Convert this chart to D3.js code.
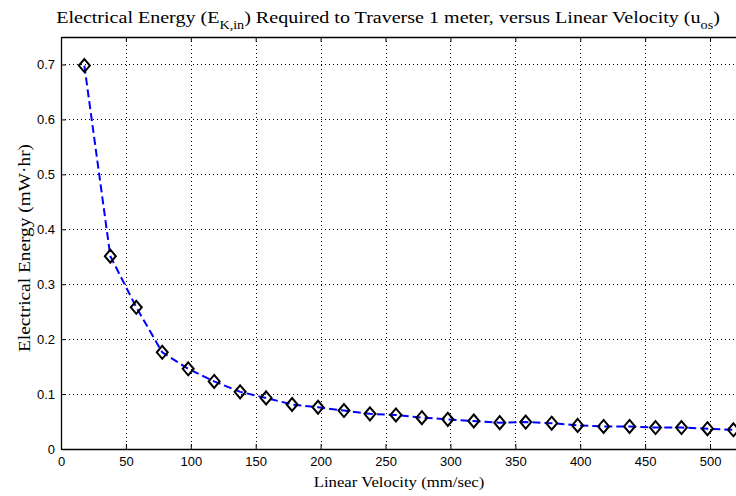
<!DOCTYPE html>
<html>
<head>
<meta charset="utf-8">
<script src="https://cdn.jsdelivr.net/npm/d3@7"></script>
<style>
  body { margin: 0; background: #fff; }
  svg { display: block; }
</style>
</head>
<body>
<script>
// velocity (mm/sec) and energy (mW·hr)
let velocity = [18, 38, 58, 78, 98, 118, 138, 158, 178, 198, 218, 238, 258,
    278, 298, 318, 338, 358, 378, 398, 418, 438, 458, 478, 498, 518];
let energy = [0.698, 0.351, 0.258, 0.176, 0.146, 0.123, 0.104, 0.093, 0.081, 0.076,
    0.070, 0.064, 0.062, 0.057, 0.054, 0.051, 0.048, 0.049, 0.047, 0.043,
    0.041, 0.041, 0.039, 0.039, 0.037, 0.035];
let xTicks = [0, 50, 100, 150, 200, 250, 300, 350, 400, 450, 500];
let yTicks = [0, 0.1, 0.2, 0.3, 0.4, 0.5, 0.6, 0.7];

let width = 736;
let height = 496;
let margin = { top: 37, right: 0, bottom: 47, left: 61 };

let svg = d3.select("body").append("svg")
    .attr("width", width)
    .attr("height", height);

let x = d3.scaleLinear().domain([0, 520]).range([margin.left, width - margin.right]);
let y = d3.scaleLinear().domain([0, 0.75]).range([height - margin.bottom, margin.top]);

let serif = "'Liberation Serif', 'DejaVu Serif', serif";
let sans = "'Liberation Sans', Arial, sans-serif";

// grid
let grid = svg.append("g").attr("stroke", "#000").attr("stroke-width", 1)
    .attr("stroke-dasharray", "1,3").attr("shape-rendering", "crispEdges");
grid.selectAll("line.v").data(xTicks.filter(d => d > 0)).enter().append("line")
    .attr("x1", d => Math.round(x(d)) + 0.5).attr("x2", d => Math.round(x(d)) + 0.5)
    .attr("y1", y(0.75)).attr("y2", y(0));
grid.selectAll("line.h").data(yTicks.filter(d => d > 0)).enter().append("line")
    .attr("y1", d => Math.round(y(d)) + 0.5).attr("y2", d => Math.round(y(d)) + 0.5)
    .attr("x1", x(0)).attr("x2", x(520));

// axes (ticks inward, MATLAB style)
let xAxis = svg.append("g")
    .attr("transform", `translate(0,${y(0)})`)
    .call(d3.axisBottom(x).tickValues(xTicks).tickSizeInner(-5).tickSizeOuter(0).tickPadding(8));
let xTop = svg.append("g")
    .attr("transform", `translate(0,${y(0.75)})`)
    .call(d3.axisTop(x).tickValues(xTicks).tickSizeInner(-5).tickSizeOuter(0).tickFormat(""));
let yAxis = svg.append("g")
    .attr("transform", `translate(${x(0)},0)`)
    .call(d3.axisLeft(y).tickValues(yTicks).tickSizeInner(-5).tickSizeOuter(0).tickPadding(6)
        .tickFormat(d => d === 0 ? "0" : d3.format(".1f")(d)));

[xAxis, xTop, yAxis].forEach(a => {
    a.select(".domain").attr("stroke", "#000").attr("stroke-width", 1.3);
    a.selectAll(".tick line").attr("stroke", "#000");
    a.selectAll("text").attr("font-family", sans).attr("font-size", 13).attr("fill", "#000");
});

// data line
let line = d3.line().x((d, i) => x(velocity[i])).y(d => y(d));
svg.append("path")
    .datum(energy)
    .attr("d", line)
    .attr("fill", "none")
    .attr("stroke", "#0000ff")
    .attr("stroke-width", 2)
    .attr("stroke-dasharray", "8,4");

// diamond markers
svg.append("g").selectAll("path").data(energy).enter().append("path")
    .attr("d", "M0,-6.5L5.5,0L0,6.5L-5.5,0Z")
    .attr("transform", (d, i) => `translate(${x(velocity[i])},${y(d)})`)
    .attr("fill", "none")
    .attr("stroke", "#000")
    .attr("stroke-width", 2);

// title (wide serif, stretched horizontally)
let title = svg.append("text")
    .attr("transform", "translate(388,23) scale(1.18,1)")
    .attr("text-anchor", "middle")
    .attr("font-family", serif).attr("font-size", 17).attr("fill", "#000");
title.append("tspan").text("Electrical Energy (E");
title.append("tspan").attr("dy", 6).attr("font-size", 12).text("K,in");
title.append("tspan").attr("dy", -6).text(") Required to Traverse 1 meter, versus Linear Velocity (u");
title.append("tspan").attr("dy", 6).attr("font-size", 12).text("os");
title.append("tspan").attr("dy", -6).text(")");

svg.append("text")
    .attr("transform", "translate(399,487) scale(1.08,1)")
    .attr("text-anchor", "middle")
    .attr("font-family", serif).attr("font-size", 15.5).attr("fill", "#000")
    .text("Linear Velocity (mm/sec)");

svg.append("text")
    .attr("transform", "translate(30,248) rotate(-90) scale(1.21,1)")
    .attr("text-anchor", "middle")
    .attr("font-family", serif).attr("font-size", 16).attr("fill", "#000")
    .text("Electrical Energy (mW\u00b7hr)");
</script>
</body>
</html>
